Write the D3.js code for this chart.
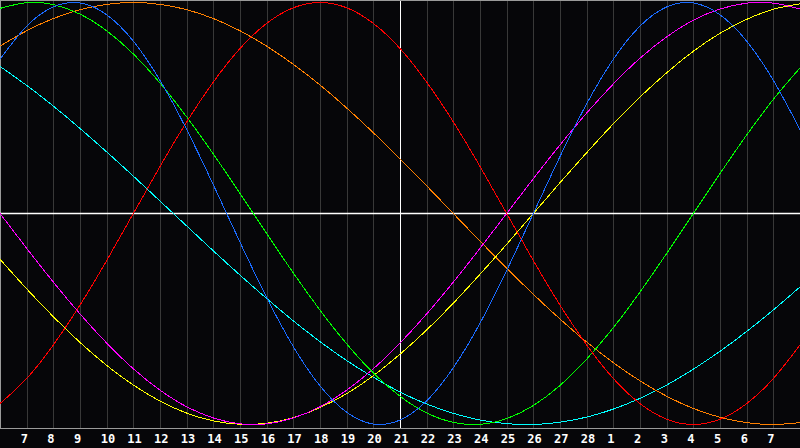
<!DOCTYPE html>
<html>
<head>
<meta charset="utf-8">
<script src="https://d3js.org/d3.v7.min.js"></script>
<style>
  body { margin: 0; background: #060609; overflow: hidden; }
</style>
</head>
<body>
<div id="dataviz"></div>
<script>
// day labels under the grid lines (Feb 7 .. Mar 7)
const dayLabels = ["7","8","9","10","11","12","13","14","15","16","17","18","19","20","21",
                   "22","23","24","25","26","27","28","1","2","3","4","5","6","7"];
const todayLabelIndex = 14; // "21"

// one value per day, t = 0..30 (-1 .. 1)
const physical = [0.731,0.888,0.979,0.998,0.942,0.817,0.631,0.398,0.136,-0.136,-0.398,-0.631,-0.817,-0.942,-0.998,-0.979,
                  -0.888,-0.731,-0.520,-0.270,0.000,0.270,0.520,0.731,0.888,0.979,0.998,0.942,0.817,0.631,0.398];
const emotional = [-0.901,-0.782,-0.623,-0.434,-0.223,0.000,0.223,0.434,0.623,0.782,0.901,0.975,1.000,0.975,0.901,0.782,
                   0.623,0.434,0.223,0.000,-0.223,-0.434,-0.623,-0.782,-0.901,-0.975,-1.000,-0.975,-0.901,-0.782,-0.623];
const intellectual = [0.972,0.999,0.990,0.945,0.866,0.756,0.618,0.458,0.282,0.095,-0.095,-0.282,-0.458,-0.618,-0.756,-0.866,
                      -0.945,-0.990,-0.999,-0.972,-0.910,-0.815,-0.690,-0.541,-0.372,-0.189,0.000,0.189,0.372,0.541,0.690];
const intuitive = [0.000,-0.165,-0.325,-0.476,-0.614,-0.736,-0.837,-0.916,-0.969,-0.997,-0.997,-0.969,-0.916,-0.837,-0.736,-0.614,
                   -0.476,-0.325,-0.165,0.000,0.165,0.325,0.476,0.614,0.736,0.837,0.916,0.969,0.997,0.997,0.969];
const aesthetic = [-0.217,-0.357,-0.489,-0.611,-0.720,-0.813,-0.889,-0.946,-0.983,-0.999,-0.994,-0.968,-0.920,-0.854,-0.769,-0.667,
                   -0.552,-0.425,-0.288,-0.146,0.000,0.146,0.288,0.425,0.552,0.667,0.769,0.854,0.920,0.968,0.994];
const awareness = [0.793,0.866,0.924,0.966,0.991,1.000,0.991,0.966,0.924,0.866,0.793,0.707,0.609,0.500,0.383,0.259,
                   0.131,0.000,-0.131,-0.259,-0.383,-0.500,-0.609,-0.707,-0.793,-0.866,-0.924,-0.966,-0.991,-1.000,-0.991];
const spiritual = [0.697,0.607,0.509,0.403,0.292,0.177,0.059,-0.059,-0.177,-0.292,-0.403,-0.509,-0.607,-0.697,-0.776,-0.846,
                   -0.903,-0.947,-0.979,-0.996,-1.000,-0.989,-0.965,-0.927,-0.876,-0.813,-0.738,-0.653,-0.559,-0.457,-0.348];

const seriesList = [
  {name: "spiritual",    values: spiritual,    color: "#00ffff"},
  {name: "awareness",    values: awareness,    color: "#ff8000"},
  {name: "aesthetic",    values: aesthetic,    color: "#ffff00"},
  {name: "intuitive",    values: intuitive,    color: "#ff00ff"},
  {name: "intellectual", values: intellectual, color: "#00ff00"},
  {name: "emotional",    values: emotional,    color: "#ff0000"},
  {name: "physical",     values: physical,     color: "#1a6bff"}
];

const width = 800, height = 448, plotBottom = 428;

let svg = d3.select("#dataviz")
            .append("svg")
            .attr("width", width)
            .attr("height", height);

svg.append("rect").attr("width", width).attr("height", height).attr("fill", "#060609");

const xScale = d3.scaleLinear()
  .domain([0, 30])
  .range([0, width]);

const yScale = d3.scaleLinear()
  .domain([-1, 1])
  .range([424.5, 2.5]);

// day grid lines
const gridDays = d3.range(1, dayLabels.length + 1);
svg.append("g")
  .selectAll("line")
  .data(gridDays)
  .join("line")
    .attr("x1", d => Math.round(xScale(d)) + 0.5)
    .attr("x2", d => Math.round(xScale(d)) + 0.5)
    .attr("y1", 0)
    .attr("y2", plotBottom)
    .attr("stroke", (d, i) => i === todayLabelIndex ? "#ffffff" : "#383838")
    .attr("stroke-width", 1);

// borders
svg.append("line").attr("x1", 0).attr("x2", width).attr("y1", 0.5).attr("y2", 0.5)
  .attr("stroke", "#9a9a9a");
svg.append("line").attr("x1", 0.5).attr("x2", 0.5).attr("y1", 0).attr("y2", plotBottom)
  .attr("stroke", "#9a9a9a");

// zero line
svg.append("line")
  .attr("x1", 0).attr("x2", width)
  .attr("y1", yScale(0)).attr("y2", yScale(0))
  .attr("stroke", "#ffffff").attr("stroke-width", 1.5);

// the curves
const line = d3.line()
  .x((d, i) => xScale(i))
  .y(d => yScale(d))
  .curve(d3.curveNatural);

svg.append("g")
  .selectAll("path")
  .data(seriesList)
  .join("path")
    .attr("d", d => line(d.values))
    .attr("fill", "none")
    .attr("stroke", d => d.color)
    .attr("stroke-width", 1)
    .attr("shape-rendering", "crispEdges");

// bottom axis line
svg.append("line")
  .attr("x1", 0).attr("x2", width)
  .attr("y1", plotBottom + 0.5).attr("y2", plotBottom + 0.5)
  .attr("stroke", "#9a9a9a");

// day labels
svg.append("g")
  .selectAll("text")
  .data(dayLabels)
  .join("text")
    .attr("x", (d, i) => xScale(i + 1) - 6)
    .attr("y", 443)
    .attr("fill", "#ffffff")
    .attr("font-family", "DejaVu Sans Mono")
    .attr("font-weight", "bold")
    .attr("font-size", "12px")
    .text(d => d);
</script>
</body>
</html>
